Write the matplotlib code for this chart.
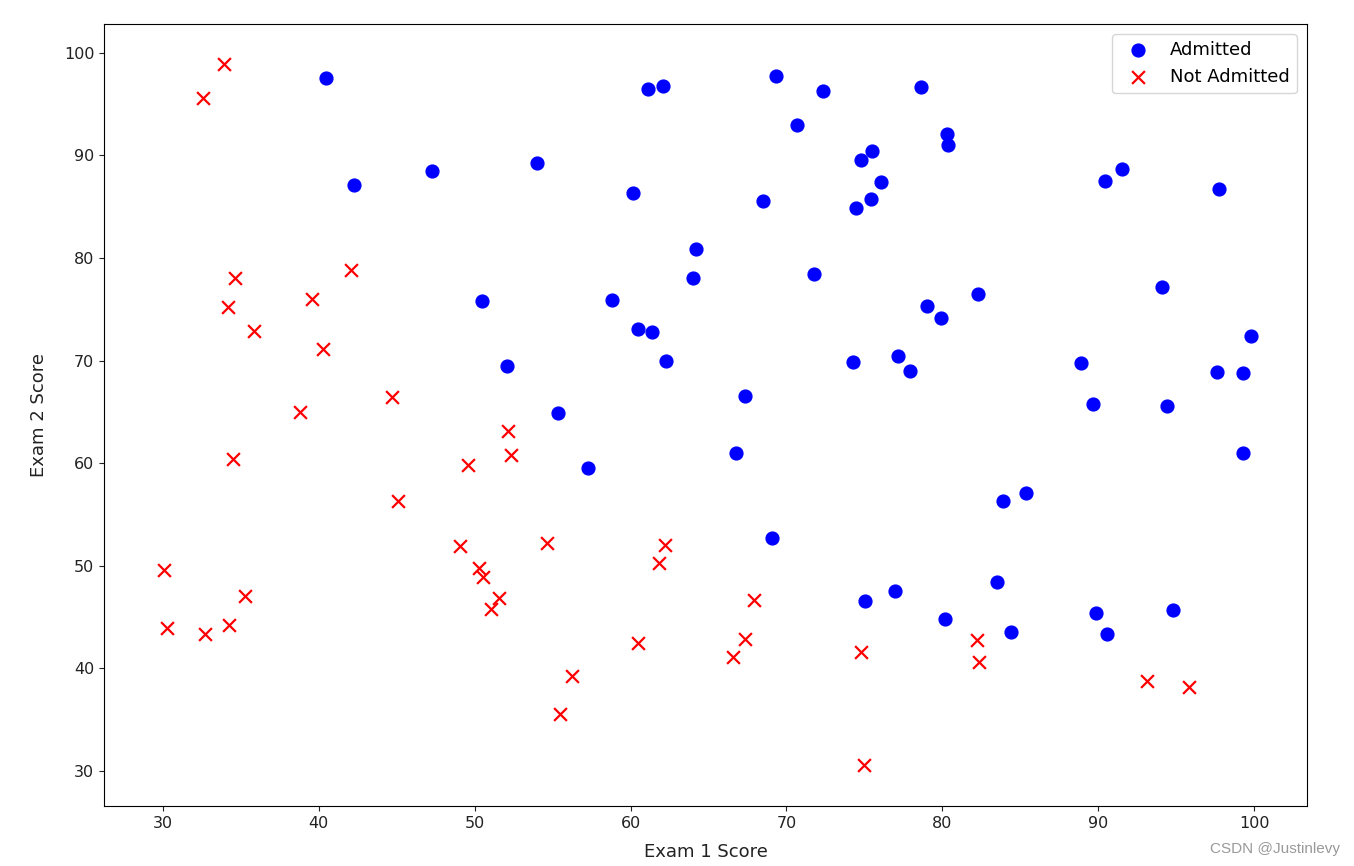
import matplotlib
matplotlib.use("Agg")
import matplotlib.pyplot as plt

# ex2data1: exam scores and admission result
exam1 = [34.62, 30.29, 35.85, 60.18, 79.03, 45.08, 61.11, 75.02, 76.10, 84.43,
         95.86, 75.01, 82.31, 69.36, 39.54, 53.97, 69.07, 67.95, 70.66, 76.98,
         67.37, 89.68, 50.53, 34.21, 77.92, 62.27, 80.19, 93.11, 61.83, 38.79,
         61.38, 85.40, 52.11, 52.05, 40.24, 54.64, 33.92, 64.18, 74.79, 34.18,
         83.90, 51.55, 94.44, 82.37, 51.05, 62.22, 77.19, 97.77, 62.07, 91.56,
         79.94, 99.27, 90.55, 34.52, 50.29, 49.59, 97.65, 32.58, 74.25, 71.80,
         75.40, 35.29, 56.25, 30.06, 44.67, 66.56, 40.46, 49.07, 80.28, 66.75,
         32.72, 64.04, 72.35, 60.46, 58.84, 99.83, 47.26, 50.46, 60.46, 82.23,
         88.91, 94.83, 67.32, 57.24, 80.37, 68.47, 42.08, 75.48, 78.64, 52.35,
         94.09, 90.45, 55.48, 74.49, 89.85, 83.49, 42.26, 99.32, 55.34, 74.78]
exam2 = [78.02, 43.89, 72.90, 86.31, 75.34, 56.32, 96.51, 46.55, 87.42, 43.53,
         38.23, 30.60, 76.48, 97.72, 76.04, 89.21, 52.74, 46.68, 92.93, 47.58,
         42.84, 65.80, 48.86, 44.21, 68.97, 69.95, 44.82, 38.80, 50.26, 65.00,
         72.81, 57.05, 63.13, 69.43, 71.17, 52.21, 98.87, 80.91, 41.57, 75.24,
         56.31, 46.86, 65.57, 40.62, 45.82, 52.06, 70.46, 86.73, 96.77, 88.70,
         74.16, 61.00, 43.39, 60.40, 49.80, 59.81, 68.86, 95.60, 69.82, 78.45,
         85.76, 47.02, 39.26, 49.59, 66.45, 41.09, 97.54, 51.88, 92.12, 60.99,
         43.31, 78.03, 96.23, 73.09, 75.86, 72.37, 88.48, 75.81, 42.51, 42.72,
         69.80, 45.69, 66.59, 59.51, 90.96, 85.59, 78.84, 90.42, 96.65, 60.77,
         77.16, 87.51, 35.57, 84.85, 45.36, 48.38, 87.10, 68.78, 64.93, 89.53]
admitted = [0, 0, 0, 1, 1, 0, 1, 1, 1, 1,
            0, 0, 1, 1, 0, 1, 1, 0, 1, 1,
            0, 1, 0, 0, 1, 1, 1, 0, 0, 0,
            1, 1, 0, 1, 0, 0, 0, 1, 0, 0,
            1, 0, 1, 0, 0, 0, 1, 1, 1, 1,
            1, 1, 1, 0, 0, 0, 1, 0, 1, 1,
            1, 0, 0, 0, 0, 0, 1, 0, 1, 1,
            0, 1, 1, 1, 1, 1, 1, 1, 0, 0,
            1, 1, 1, 1, 1, 1, 0, 1, 1, 0,
            1, 1, 0, 1, 1, 1, 1, 1, 1, 1]

pos_x = [x for x, a in zip(exam1, admitted) if a == 1]
pos_y = [y for y, a in zip(exam2, admitted) if a == 1]
neg_x = [x for x, a in zip(exam1, admitted) if a == 0]
neg_y = [y for y, a in zip(exam2, admitted) if a == 0]

W, H = 1354, 866
fig = plt.figure(figsize=(W / 100, H / 100), dpi=100)
ax = fig.add_axes([104 / W, 1 - 806 / H, 1203 / W, 782 / H])
ax.scatter(pos_x, pos_y, s=85, c='b', marker='o', label='Admitted')
ax.scatter(neg_x, neg_y, s=85, c='r', marker='x', linewidths=1.6, label='Not Admitted')
ax.set_xlim(26.22, 103.4)
ax.set_ylim(26.59, 102.8)
ax.tick_params(labelsize=11.5, colors='#222222')
ax.legend(loc='upper right', fontsize=13, borderaxespad=0.55)
ax.set_xlabel('Exam 1 Score', fontsize=13, labelpad=9, color='#222222')
ax.set_ylabel('Exam 2 Score', fontsize=13, labelpad=11, color='#222222')

fig.text(0.99, 0.012, 'CSDN @Justinlevy', ha='right', va='bottom',
         color='#999999', fontsize=11, family=['Liberation Sans', 'DejaVu Sans'])

fig.savefig('out.png', dpi=100)
